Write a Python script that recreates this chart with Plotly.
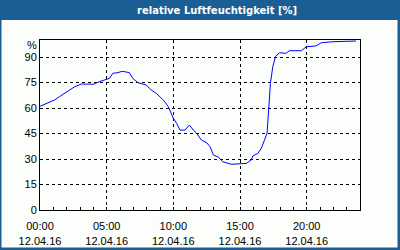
import plotly.graph_objects as go

hours = [0.0, 0.71, 1.09, 1.46, 2.2, 2.6, 3.1, 4.0, 4.46, 4.97, 5.2, 5.46, 5.84, 6.17, 6.7, 6.96,
         7.34, 7.97, 8.34, 8.72, 9.25, 9.62, 10.0, 10.25, 10.5, 10.87, 11.2, 11.5, 11.75, 12.1,
         12.5, 12.75, 13.0, 13.4, 13.7, 14.34, 14.96, 15.47, 15.84, 15.97, 16.34, 16.6, 16.84,
         17.03, 17.15, 17.28, 17.46, 17.66, 17.96, 18.46, 18.7, 19.6, 19.97, 20.7, 21.1, 21.97, 23.7]
humidity = [61, 63.7, 64.7, 66.7, 70.6, 72.5, 74.1, 74, 75.5, 76.9, 77.4, 80.4, 80.8, 81.6, 80.8, 77.4,
            74.9, 73.5, 70.6, 68.6, 64.7, 60.8, 53.9, 51, 47, 47, 50, 47, 45.1, 41.2,
            39.6, 37.3, 32.4, 31, 28.4, 26.9, 27.4, 27.4, 29.4, 31.8, 33.3, 36.3, 41.2,
            45.1, 58.8, 74.5, 84.3, 90.2, 92.5, 92.2, 93.7, 93.7, 96, 96.5, 98.4, 99, 99.4]

x_tickvals = [0, 5, 10, 15, 20]
x_ticktext = ["00:00<br>12.04.16", "05:00<br>12.04.16", "10:00<br>12.04.16",
              "15:00<br>12.04.16", "20:00<br>12.04.16"]
y_tickvals = [0, 15, 30, 45, 60, 75, 90]
title_text = "relative Luftfeuchtigkeit [%]"
unit_text = "%"

BLUE = "#1b5e94"
BG = "#fbfefb"

fig = go.Figure()
fig.add_trace(go.Scatter(x=hours, y=humidity, mode="lines",
                         line=dict(color="#0000ff", width=1), hoverinfo="skip"))

# paper coords: plot area px x 40..360, y 40..210
def px(x):
    return (x - 40) / 320.0

def py(y):
    return (210 - y) / 170.0

fig.update_layout(
    width=400, height=250,
    margin=dict(l=40, r=40, t=40, b=40, autoexpand=False),
    paper_bgcolor=BLUE, plot_bgcolor=BG,
    showlegend=False,
    font=dict(family="Liberation Sans", size=11, color="black"),
    shapes=[
        dict(type="rect", xref="paper", yref="paper", x0=px(1.5), x1=px(397.5),
             y0=py(247.5), y1=py(20), fillcolor=BG, line=dict(width=0), layer="below"),
    ],
    annotations=[
        dict(text="<b>" + title_text + "</b>", xref="paper", yref="paper", x=px(217), y=py(10.5),
             xanchor="center", yanchor="middle", showarrow=False,
             font=dict(family="DejaVu Sans", size=10, color="white")),
        dict(text=unit_text, xref="paper", yref="y", x=0, y=97, xanchor="right", xshift=-1,
             yanchor="middle", showarrow=False,
             font=dict(family="Liberation Sans", size=11, color="black")),
    ],
)
fig.update_xaxes(range=[0, 24], tickvals=x_tickvals, ticktext=x_ticktext,
                 showgrid=True, gridcolor="black", gridwidth=1, griddash="3px,3px",
                 showline=True, linecolor="black", linewidth=1, mirror=True,
                 ticks="inside", ticklen=3, tickcolor="black", ticklabelstandoff=6,
                 minor=dict(dtick=1, ticks="inside", ticklen=3, tickcolor="black", showgrid=False),
                 zeroline=False, fixedrange=True, automargin=False)
fig.update_yaxes(range=[0, 100], tickvals=y_tickvals,
                 showgrid=True, gridcolor="black", gridwidth=1, griddash="3px,3px",
                 showline=True, linecolor="black", linewidth=1, mirror=True,
                 ticks="", zeroline=False, fixedrange=True, automargin=False)

fig.write_html("out.html", config={"displayModeBar": False})
